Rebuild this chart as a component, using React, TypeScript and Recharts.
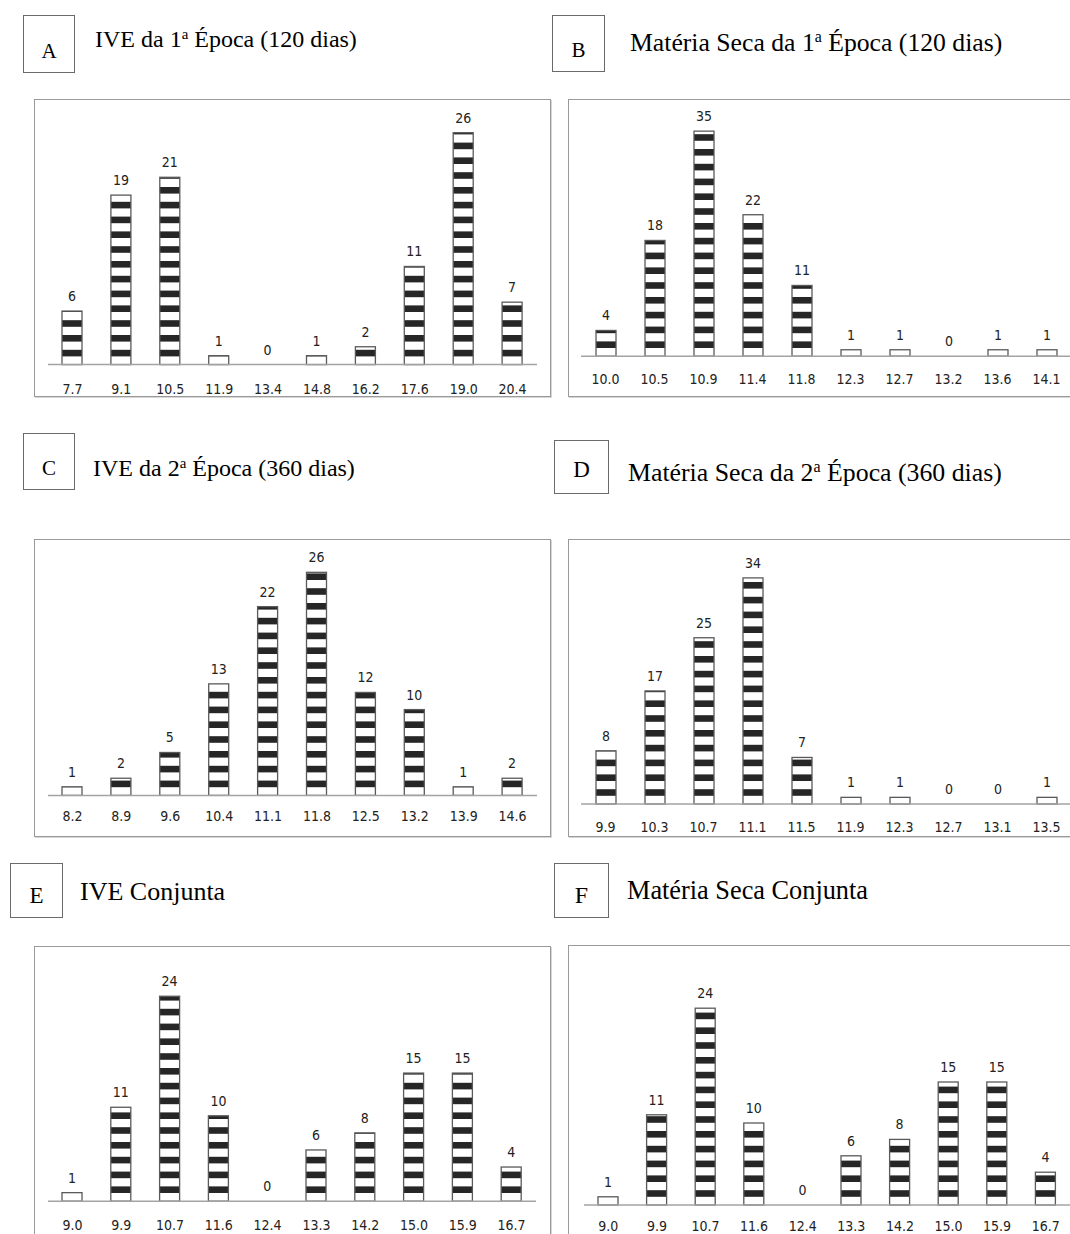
import React from "react";
import { BarChart, Bar, XAxis, YAxis, LabelList } from "recharts";

// classes (centre of each interval) and counts
const ive1Classes = ["7.7", "9.1", "10.5", "11.9", "13.4", "14.8", "16.2", "17.6", "19.0", "20.4"];
const ive1Counts = [6, 19, 21, 1, 0, 1, 2, 11, 26, 7];

const ms1Classes = ["10.0", "10.5", "10.9", "11.4", "11.8", "12.3", "12.7", "13.2", "13.6", "14.1"];
const ms1Counts = [4, 18, 35, 22, 11, 1, 1, 0, 1, 1];

const ive2Classes = ["8.2", "8.9", "9.6", "10.4", "11.1", "11.8", "12.5", "13.2", "13.9", "14.6"];
const ive2Counts = [1, 2, 5, 13, 22, 26, 12, 10, 1, 2];

const ms2Classes = ["9.9", "10.3", "10.7", "11.1", "11.5", "11.9", "12.3", "12.7", "13.1", "13.5"];
const ms2Counts = [8, 17, 25, 34, 7, 1, 1, 0, 0, 1];

const iveJointClasses = ["9.0", "9.9", "10.7", "11.6", "12.4", "13.3", "14.2", "15.0", "15.9", "16.7"];
const iveJointCounts = [1, 11, 24, 10, 0, 6, 8, 15, 15, 4];

const msJointClasses = ["9.0", "9.9", "10.7", "11.6", "12.4", "13.3", "14.2", "15.0", "15.9", "16.7"];
const msJointCounts = [1, 11, 24, 10, 0, 6, 8, 15, 15, 4];

const toRows = (classes: string[], counts: number[]) =>
	classes.map((c, i) => ({ cat: c, value: counts[i] }));

const NUM_FONT = "'Liberation Sans Narrow', 'DejaVu Sans Condensed', sans-serif";
const SERIF = "'Liberation Serif', 'Times New Roman', serif";
const NUM_SIZE = 14;

const PERIOD = 14.8;
const BLACK = 6.6;

// white bar with horizontal black stripes, counted from the baseline up
const StripedBar = (props: any) => {
	const { x, y, width, height } = props;
	if (!height || height <= 0) return null;
	const bottom = y + height;
	const stripes = [];
	for (let k = 0; k < 100; k++) {
		const sBottom = bottom - (k * PERIOD + (PERIOD - BLACK));
		if (sBottom <= y) break;
		const sTop = Math.max(sBottom - BLACK, y);
		stripes.push(
			<rect key={k} x={x} y={sTop} width={width} height={sBottom - sTop} fill="#262626" />
		);
	}
	return (
		<g>
			<rect x={x} y={y} width={width} height={height} fill="#fff" />
			{stripes}
			<rect x={x} y={y} width={width} height={height} fill="none" stroke="#5a5a5a" strokeWidth={1.3} />
		</g>
	);
};

interface PanelProps {
	letter: string;
	title: React.ReactNode;
	rows: { cat: string; value: number }[];
	labelBox: [number, number, number, number];
	letterSize: number;
	letterShift: number;
	titleX: number;
	titleBase: number;
	titleSize: number;
	box: [number, number, number, number];
	x0: number;
	x1: number;
	baseline: number;
	pxPerUnit: number;
	yMax: number;
	tickMargin: number;
}

const Panel: React.FC<PanelProps> = (p) => {
	const topPad = 24;
	const plotH = p.yMax * p.pxPerUnit;
	const svgTop = p.baseline - plotH - topPad;
	const axisH = 45;
	const [bx, by, bx2, by2] = p.box;
	const [lx, ly, lx2, ly2] = p.labelBox;
	return (
		<>
			<div
				style={{
					position: "absolute",
					left: lx,
					top: ly,
					width: lx2 - lx,
					height: ly2 - ly,
					border: "1px solid #6a6a6a",
					boxSizing: "border-box",
					display: "flex",
					alignItems: "center",
					justifyContent: "center",
					fontFamily: SERIF,
					fontSize: p.letterSize,
					paddingTop: p.letterShift * 2,
					color: "#000",
				}}
			>
				{p.letter}
			</div>
			<div
				style={{
					position: "absolute",
					left: p.titleX,
					top: p.titleBase - p.titleSize * 0.84,
					fontFamily: SERIF,
					fontSize: p.titleSize,
					lineHeight: `${p.titleSize}px`,
					whiteSpace: "nowrap",
					color: "#000",
				}}
			>
				{p.title}
			</div>
			<div
				style={{
					position: "absolute",
					left: bx,
					top: by,
					width: bx2 - bx,
					height: by2 - by,
					border: "1px solid #9a9a9a",
					boxShadow: "1px 1px 0 #d6d6d6",
					boxSizing: "border-box",
				}}
			/>
			<div style={{ position: "absolute", left: p.x0, top: svgTop }}>
				<BarChart
					width={p.x1 - p.x0}
					height={plotH + topPad + axisH}
					data={p.rows}
					margin={{ top: topPad, right: 0, left: 0, bottom: 0 }}
					barSize={20}
				>
					<YAxis hide type="number" domain={[0, p.yMax]} />
					<XAxis
						dataKey="cat"
						height={axisH}
						interval={0}
						tickLine={false}
						tickSize={0}
						tickMargin={p.tickMargin}
						axisLine={{ stroke: "#a3a3a3", strokeWidth: 1.5 }}
						tick={{ fontFamily: NUM_FONT, fontSize: NUM_SIZE, fill: "#222" }}
					/>
					<Bar dataKey="value" shape={StripedBar} isAnimationActive={false}>
						<LabelList
							dataKey="value"
							position="top"
							offset={10}
							style={{ fontFamily: NUM_FONT, fontSize: NUM_SIZE, fill: "#222" }}
						/>
					</Bar>
				</BarChart>
			</div>
		</>
	);
};

const Ord: React.FC<{ n: string }> = ({ n }) => (
	<>
		{n}
		<span style={{ fontSize: "0.62em", verticalAlign: "0.55em" }}>a</span>
	</>
);

export default function App() {
	return (
		<div
			style={{
				position: "absolute",
				left: 0,
				top: 0,
				width: 1070,
				height: 1234,
				overflow: "hidden",
				background: "#fff",
			}}
		>
			<Panel
				letter="A"
				title={<>IVE da <Ord n="1" /> Época (120 dias)</>}
				rows={toRows(ive1Classes, ive1Counts)}
				labelBox={[23, 15, 75, 73]}
				letterSize={21}
				letterShift={7}
				titleX={95}
				titleBase={42}
				titleSize={24}
				box={[34, 99, 551, 397]}
				x0={48}
				x1={537}
				baseline={365}
				pxPerUnit={8.92}
				yMax={30}
				tickMargin={19}
			/>
			<Panel
				letter="B"
				title={<>Matéria Seca da <Ord n="1" /> Época (120 dias)</>}
				rows={toRows(ms1Classes, ms1Counts)}
				labelBox={[552, 15, 605, 72]}
				letterSize={21}
				letterShift={7}
				titleX={630}
				titleBase={46}
				titleSize={25.7}
				box={[568, 99, 1080, 397]}
				x0={581}
				x1={1071}
				baseline={356}
				pxPerUnit={6.43}
				yMax={40}
				tickMargin={18}
			/>
			<Panel
				letter="C"
				title={<>IVE da <Ord n="2" /> Época (360 dias)</>}
				rows={toRows(ive2Classes, ive2Counts)}
				labelBox={[23, 433, 75, 490]}
				letterSize={21}
				letterShift={7}
				titleX={93}
				titleBase={471}
				titleSize={24}
				box={[34, 539, 551, 837]}
				x0={48}
				x1={537}
				baseline={795}
				pxPerUnit={8.58}
				yMax={30}
				tickMargin={16}
			/>
			<Panel
				letter="D"
				title={<>Matéria Seca da <Ord n="2" /> Época (360 dias)</>}
				rows={toRows(ms2Classes, ms2Counts)}
				labelBox={[554, 440, 609, 494]}
				letterSize={23}
				letterShift={3}
				titleX={628}
				titleBase={476}
				titleSize={25.8}
				box={[568, 539, 1080, 837]}
				x0={581}
				x1={1071}
				baseline={804}
				pxPerUnit={6.65}
				yMax={40}
				tickMargin={18}
			/>
			<Panel
				letter="E"
				title="IVE Conjunta"
				rows={toRows(iveJointClasses, iveJointCounts)}
				labelBox={[10, 863, 63, 918]}
				letterSize={23}
				letterShift={5}
				titleX={80}
				titleBase={901}
				titleSize={26}
				box={[34, 946, 551, 1250]}
				x0={48}
				x1={536}
				baseline={1201}
				pxPerUnit={8.54}
				yMax={30}
				tickMargin={19}
			/>
			<Panel
				letter="F"
				title="Matéria Seca Conjunta"
				rows={toRows(msJointClasses, msJointCounts)}
				labelBox={[554, 863, 609, 918]}
				letterSize={24}
				letterShift={5}
				titleX={627}
				titleBase={900}
				titleSize={26.3}
				box={[568, 945, 1080, 1250]}
				x0={584}
				x1={1070}
				baseline={1205}
				pxPerUnit={8.2}
				yMax={30}
				tickMargin={16}
			/>
		</div>
	);
}
